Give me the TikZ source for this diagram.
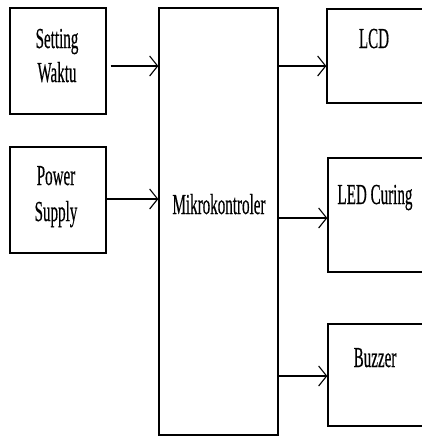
\documentclass[tikz,border=0pt]{standalone}
\usepackage{fontspec}
\setmainfont{Liberation Serif}
\newfontfamily\tf{Liberation Serif}[FakeBold=0.6]
\usetikzlibrary{arrows.meta,calc}
\newcommand\tx[1]{\scalebox{0.52}[1]{\tf\fontsize{29}{32}\selectfont #1}}
\begin{document}
\begin{tikzpicture}[x=1pt,y=-1pt,
  box/.style={draw,line width=1.3pt,inner sep=0pt,fill=none},
  lbl/.style={inner sep=0pt,anchor=base},
  arr/.style={line width=1.3pt,-{Straight Barb[length=8pt,width=20pt,line width=1.1pt]}}]
\useasboundingbox (0,0) rectangle (422,437);
\clip (0,0) rectangle (422,437);
% boxes
\node[box,minimum width=96pt,minimum height=106pt] (sw) at (58,61) {};
\node[box,minimum width=96pt,minimum height=106pt] (ps) at (58,200) {};
\node[box,minimum width=119pt,minimum height=427pt] (mk) at (218.5,221.5) {};
\node[box,minimum width=133pt,minimum height=94pt] (lcd) at (393.5,56) {};
\node[box,minimum width=132pt,minimum height=114pt] (led) at (394,215) {};
\node[box,minimum width=132pt,minimum height=102pt] (bz) at (394,375) {};
% labels
\node[lbl] (t1) at (57,48) {\tx{Setting}};
\node[lbl] (t2) at (57,82) {\tx{Waktu}};
\node[lbl] (t3) at (56,185) {\tx{Power}};
\node[lbl] (t4) at (56,221) {\tx{Supply}};
\node[lbl] (t5) at (219,214) {\tx{Mikrokontroler}};
\node[lbl] (t6) at (374,48) {\tx{LCD}};
\node[lbl] (t7) at (375,204) {\tx{LED Curing}};
\node[lbl] (t8) at (375,367) {\tx{Buzzer}};
% arrow levels
\coordinate (y1) at (0,66);
\coordinate (y2) at (0,199);
\coordinate (y3) at (0,66);
\coordinate (y4) at (0,218);
\coordinate (y5) at (0,376);
\draw[arr] ($(sw.east |- y1)+(4,0)$) -- (mk.west |- y1);
\draw[arr] (ps.east |- y2) -- (mk.west |- y2);
\draw[arr] (mk.east |- y3) -- (lcd.west |- y3);
\draw[arr] (mk.east |- y4) -- (led.west |- y4);
\draw[arr] (mk.east |- y5) -- (bz.west |- y5);
\end{tikzpicture}
\end{document}
